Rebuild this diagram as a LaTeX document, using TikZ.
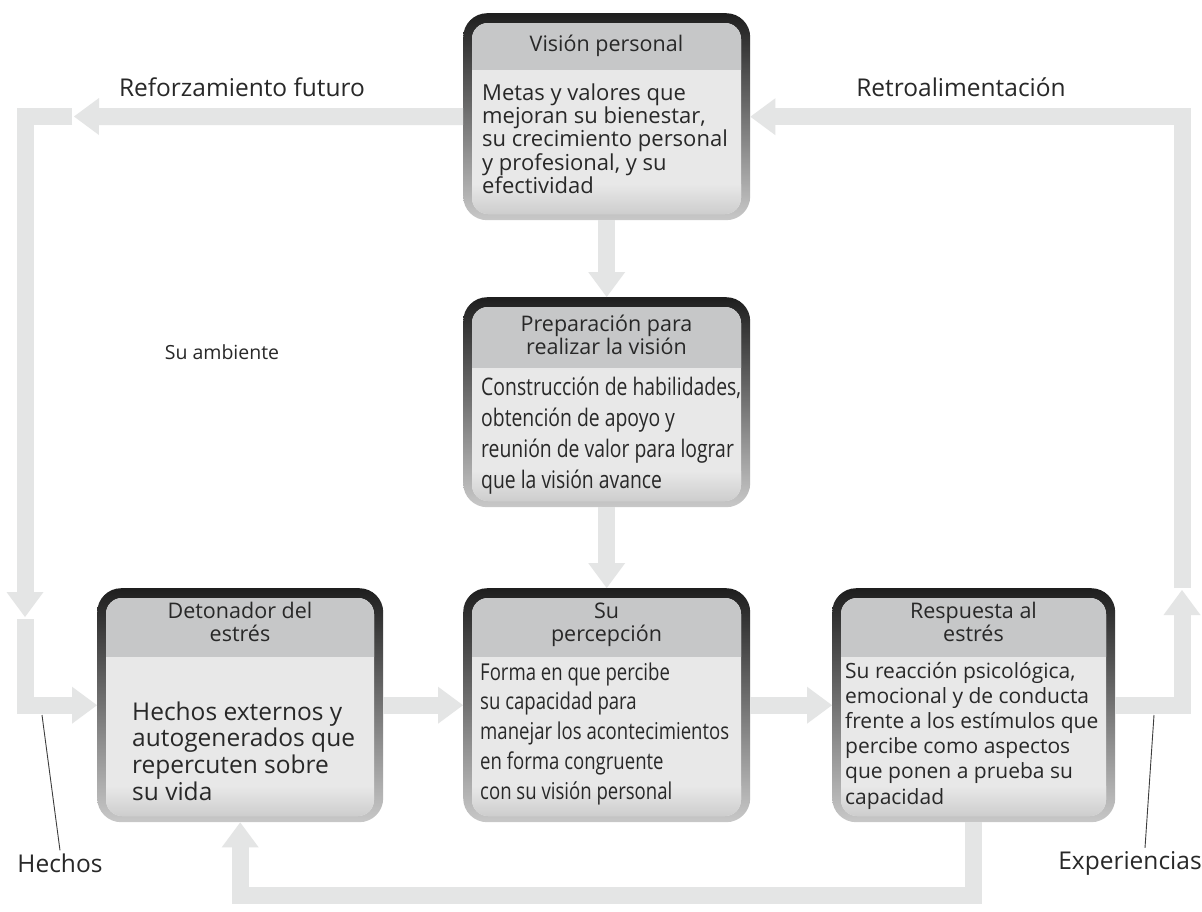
\documentclass[tikz,border=0pt]{standalone}
\usepackage{fontspec}
\setmainfont{Open Sans}
\newfontfamily\narrowfont[FakeStretch=0.8]{Open Sans}
\usetikzlibrary{arrows.meta,calc}

\definecolor{flowgray}{RGB}{228,229,229}
\definecolor{ink}{RGB}{40,40,40}
\definecolor{headgray}{RGB}{198,199,200}
\definecolor{bodygray}{RGB}{232,232,232}
\definecolor{bodylow}{RGB}{200,200,200}
\definecolor{framedark}{RGB}{30,30,30}
\definecolor{framelight}{RGB}{200,200,200}

% stacked lines: first line carries the baseline
\newcommand\leftlines[1]{\vtop{\halign{##\hfil\cr#1\crcr}}}
\newcommand\midlines[1]{\vtop{\halign{\hfil##\hfil\cr#1\crcr}}}

% rounded panel: name, left, top, right, bottom, header bottom
\newcommand\stressbox[6]{%
  \node[boxframe, minimum width={#4-#2}, minimum height={#5-#3}] (#1) at (#2,#3) {};
  \begin{scope}
    \clip[rounded corners=16pt] (#2+9,#3+10) rectangle (#4-9,#5-6);
    \fill[bodygray] (#2,#3) rectangle (#4,#5);
    \shade[top color=bodygray, bottom color=bodylow] (#2,#5-36) rectangle (#4,#5);
    \fill[headgray] (#2,#3) rectangle (#4,#6);
  \end{scope}}

\tikzset{
  boxframe/.style={anchor=north west, inner sep=0pt, rounded corners=24pt,
    top color=framedark, bottom color=framelight, draw=none},
  headtext/.style={font=\fontsize{21.5}{23}\selectfont, inner sep=0pt, text=ink},
  boxtext/.style={font=\fontsize{22}{23.4}\selectfont, inner sep=0pt, text=ink},
  restext/.style={font=\fontsize{21}{25.2}\selectfont, inner sep=0pt, text=ink},
  bigtext/.style={font=\fontsize{24.5}{26.8}\selectfont, inner sep=0pt, text=ink},
  preptext/.style={font=\narrowfont\fontsize{24.2}{31}\selectfont, inner sep=0pt, text=ink},
  pertext/.style={font=\narrowfont\fontsize{23.2}{29.8}\selectfont, inner sep=0pt, text=ink},
  labeltext/.style={font=\fontsize{24.5}{28}\selectfont, inner sep=0pt, text=ink},
  flow/.style={draw=flowgray, line width=17pt, line join=miter,
    -{Triangle[width=37pt,length=25pt,line width=0pt]}},
  leader/.style={draw=ink!90, line width=0.9pt}
}

\begin{document}
\begin{tikzpicture}[x=1pt, y=-1pt]
\fill[white] (0,0) rectangle (1202,911);
\useasboundingbox (0,0) rectangle (1202,911);

% panels
\stressbox{vis}{463}{13}{750}{220}{70}
\stressbox{prep}{463}{297}{750}{507}{368}
\stressbox{det}{97}{588}{383}{822}{657}
\stressbox{per}{463}{588}{750}{822}{657}
\stressbox{res}{832}{588}{1115}{822}{657}

% free ends of the outer loops
\coordinate (tlTip) at (74,116.5);
\coordinate (ldTip) at (25,617);
\coordinate (ruTip) at (1182,590);

% connectors
\draw[flow] (vis.south) -- (prep.north);
\draw[flow] (prep.south) -- (per.north);
\draw[flow] (det.east) -- (per.west);
\draw[flow] (per.east) -- (res.west);
\draw[flow] (vis.west) -- (tlTip);
\draw[flow] ($(tlTip)+(-2,0)$) -| (ldTip);
\draw[flow] ($(ldTip)+(0,2)$) |- (det.west);
\draw[flow] (res.east) -| (ruTip);
\draw[flow] ($(ruTip)+(0,-2)$) |- (vis.east);
\draw[flow] (res.south) -- ++(0,73) -| (det.south);

% panel texts
\node[headtext, anchor=base] (visHead) at (606.5,51) {Visión personal};
\node[boxtext, anchor=base west] (visBody) at (482,100)
  {\leftlines{Metas y valores que\cr mejoran su bienestar,\cr su crecimiento personal\cr y profesional, y su\cr efectividad}};

\node[headtext, anchor=base] (prepHead) at (606.5,331)
  {\midlines{Preparación para\cr realizar la visión}};
\node[preptext, anchor=base west] (prepBody) at (481,395)
  {\leftlines{Construcción de habilidades,\cr obtención de apoyo y\cr reunión de valor para lograr\cr que la visión avance}};

\node[headtext, anchor=base] (detHead) at (240,618)
  {\midlines{Detonador del\cr estrés}};
\node[bigtext, anchor=base west] (detBody) at (132,720)
  {\leftlines{Hechos externos y\cr autogenerados que\cr repercuten sobre\cr su vida}};

\node[headtext, anchor=base] (perHead) at (606.5,618)
  {\midlines{Su\cr percepción}};
\node[pertext, anchor=base west] (perBody) at (480,680)
  {\leftlines{Forma en que percibe\cr su capacidad para\cr manejar los acontecimientos\cr en forma congruente\cr con su visión personal}};

\node[headtext, anchor=base] (resHead) at (973.5,618)
  {\midlines{Respuesta al\cr estrés}};
\node[restext, anchor=base west] (resBody) at (845,678)
  {\leftlines{Su reacción psicológica,\cr emocional y de conducta\cr frente a los estímulos que\cr percibe como aspectos\cr que ponen a prueba su\cr capacidad}};

% outer labels
\node[labeltext] (reforz) at (242,87) {Reforzamiento futuro};
\node[labeltext] (retro) at (961,87) {Retroalimentación};
\node[font=\fontsize{19.5}{22}\selectfont, inner sep=0pt, text=ink] (ambiente) at (222,352) {Su ambiente};
\node[labeltext, inner sep=3pt] (hechos) at (60,863) {Hechos};
\node[labeltext, inner sep=3pt] (exper) at (1130,863) {Experiencias};

\coordinate (hechosTip) at (42,715);
\coordinate (experTip) at (1154,715);
\draw[leader] (hechosTip) -- (hechos.north);
\draw[leader] (experTip) -- ([xshift=15pt]exper.north);
\end{tikzpicture}
\end{document}
